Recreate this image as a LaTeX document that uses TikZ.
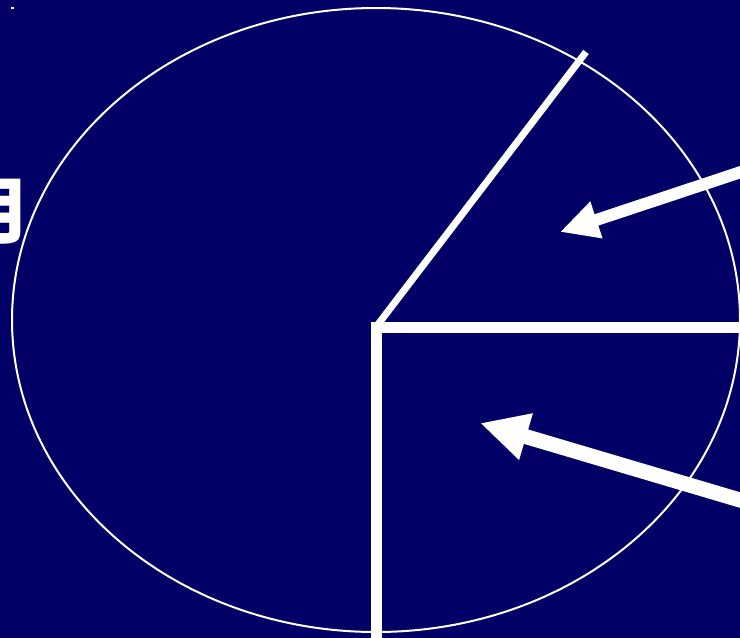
\documentclass[tikz,border=0pt]{standalone}
\usepackage{fontspec}
\usepackage{tikz}
\usetikzlibrary{arrows.meta}
\newfontfamily\cjk{Noto Sans CJK SC}
\definecolor{navy}{RGB}{0,0,102}

\tikzset{
    bigarrow/.style={white, line width=#1, -{Triangle[length=3.2*#1, width=3*#1]}},
    bar/.style={white, line width=11pt, miter limit=4}
}

\begin{document}
\begin{tikzpicture}[x=1pt, y=-1pt]
        \fill[navy] (0,0) rectangle (740,638);
        \clip (0,0) rectangle (740,638);
        \useasboundingbox (0,0) rectangle (740,638);

        \coordinate (o) at (376,327);
        \coordinate (r) at (745,327);
        \coordinate (b) at (376,645);
        \coordinate (t) at (586,52);
        \coordinate (a1s) at (750,169);
        \coordinate (a1e) at (560,232);
        \coordinate (a2s) at (750,503);
        \coordinate (a2e) at (480,423);

        \node[white, font=\cjk\bfseries\fontsize{72}{72}\selectfont, inner sep=0pt] (yue) at (-5,212) {月};
        \fill[white] (11,7) rectangle (14,9);

        \draw[white, line width=2pt] (376,320) ellipse [x radius=364, y radius=312];
        \draw[bar] (r) -- (o) -- (b);
        \draw[white, line width=7pt] (o) -- (t);
        \draw[bigarrow=12pt] (a1s) -- (a1e);
        \draw[bigarrow=15pt] (a2s) -- (a2e);
\end{tikzpicture}
\end{document}
